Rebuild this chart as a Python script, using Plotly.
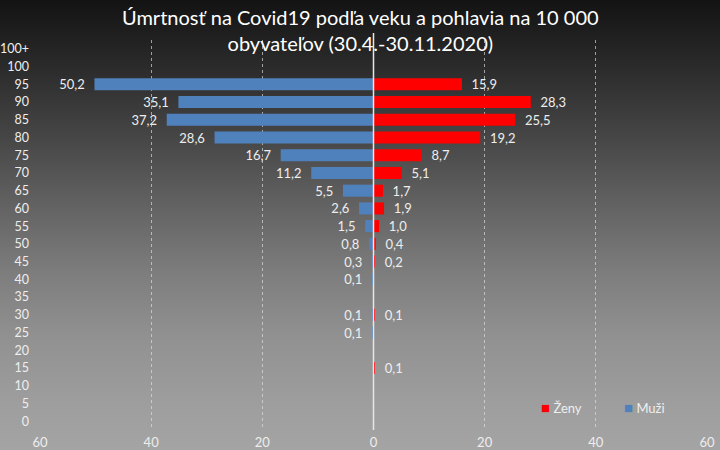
import base64
import plotly.graph_objects as go

ages = ["0", "5", "10", "15", "20", "25", "30", "35", "40", "45", "50",
        "55", "60", "65", "70", "75", "80", "85", "90", "95", "100", "100+"]
men_vals = [None, None, None, None, None, 0.1, 0.1, None, 0.1, 0.3, 0.8,
            1.5, 2.6, 5.5, 11.2, 16.7, 28.6, 37.2, 35.1, 50.2, None, None]
women_vals = [None, None, None, 0.1, None, None, 0.1, None, None, 0.2, 0.4,
              1.0, 1.9, 1.7, 5.1, 8.7, 19.2, 25.5, 28.3, 15.9, None, None]
x_tickvals = [-60, -40, -20, 0, 20, 40, 60]
x_ticktext = ["60", "40", "20", "0", "20", "40", "60"]
series_names = ["Ženy", "Muži"]
series_colors = ["#ff0000", "#4f81bd"]


def fmt(v):
    return "" if v is None else f"{v:.1f}".replace(".", ",")


NB = "\u00a0"
men_x = [None if v is None else -v for v in men_vals]
men_text = [fmt(v) + NB * 2 if v is not None else "" for v in men_vals]
women_text = [NB * 2 + fmt(v) if v is not None else "" for v in women_vals]

W, H = 720, 450
L, R, T, B = 40, 13, 40, 20
PW, PH = W - L - R, H - T - B

FONT = "Lato"
TXT = "#eeeeee"

fig = go.Figure()
fig.add_trace(go.Bar(
    y=ages, x=women_vals, orientation="h", name=series_names[0],
    marker=dict(color=series_colors[0], line=dict(width=0)),
    text=women_text, textposition="outside", cliponaxis=False,
    constraintext="none",
    textfont=dict(color=TXT, size=13, family=FONT),
))
fig.add_trace(go.Bar(
    y=ages, x=men_x, orientation="h", name=series_names[1],
    marker=dict(color=series_colors[1], line=dict(width=0)),
    text=men_text, textposition="outside", cliponaxis=False,
    constraintext="none",
    textfont=dict(color=TXT, size=13, family=FONT),
))

svg = (
    '<svg xmlns="http://www.w3.org/2000/svg" width="720" height="450">'
    '<defs><linearGradient id="g" x1="0" y1="0" x2="0" y2="1">'
    '<stop offset="0" stop-color="#131313"/>'
    '<stop offset="0.15" stop-color="#2b2b2b"/>'
    '<stop offset="0.30" stop-color="#454545"/>'
    '<stop offset="0.45" stop-color="#616161"/>'
    '<stop offset="0.60" stop-color="#7c7c7c"/>'
    '<stop offset="0.75" stop-color="#919191"/>'
    '<stop offset="0.90" stop-color="#9e9e9e"/>'
    '<stop offset="1" stop-color="#a4a4a4"/>'
    '</linearGradient></defs>'
    '<rect width="720" height="450" fill="url(#g)"/></svg>'
)
src = "data:image/svg+xml;base64," + base64.b64encode(svg.encode()).decode()

annotations = [dict(
    text="Úmrtnosť na Covid19 podľa veku a pohlavia na 10 000<br>obyvateľov (30.4.-30.11.2020)",
    xref="paper", yref="paper", x=(W / 2 - L) / PW, y=1 + (T - 3) / PH,
    xanchor="center", yanchor="top", showarrow=False,
    font=dict(family=FONT, size=20, color="#ffffff"),
)]
legend_px = [540, 623]
for name, color, px in zip(series_names, series_colors, legend_px):
    annotations.append(dict(
        text=f'<span style="color:{color};font-size:15px">■</span>{NB}{name}',
        xref="paper", yref="paper", x=(px - 1 - L) / PW, y=(430 - 407) / PH,
        xanchor="left", yanchor="middle", showarrow=False,
        font=dict(family=FONT, size=13, color=TXT),
    ))

fig.update_layout(
    width=W, height=H,
    margin=dict(l=L, r=R, t=T, b=B, pad=0),
    paper_bgcolor="#5a5a5a",
    plot_bgcolor="rgba(0,0,0,0)",
    barmode="relative",
    bargap=0.32,
    font=dict(family=FONT, color=TXT, size=13),
    images=[dict(
        source=src, xref="paper", yref="paper",
        x=-L / PW, y=1 + T / PH, sizex=W / PW, sizey=H / PH,
        xanchor="left", yanchor="top", sizing="stretch", layer="below",
    )],
    xaxis=dict(
        range=[-60, 60], tickvals=x_tickvals, ticktext=x_ticktext,
        showgrid=True, gridcolor="rgba(225,225,225,0.65)", gridwidth=1,
        griddash="3px,3px", zeroline=False, showline=False,
        tickfont=dict(size=13, color=TXT), ticklabelstandoff=3,
        automargin=False,
    ),
    yaxis=dict(
        type="category", categoryorder="array", categoryarray=ages,
        range=[-0.5, len(ages) - 0.5],
        showgrid=False, zeroline=False, showline=False,
        tickfont=dict(size=12.5, color=TXT), ticklabelstandoff=10,
        automargin=False,
    ),
    showlegend=False,
    annotations=annotations,
    shapes=[dict(
        type="line", xref="x", yref="paper", x0=0, x1=0,
        y0=0, y1=1 + 7 / PH, line=dict(color="#e6e6e6", width=1.5),
        layer="above",
    )],
)

fig.write_html("out.html")
